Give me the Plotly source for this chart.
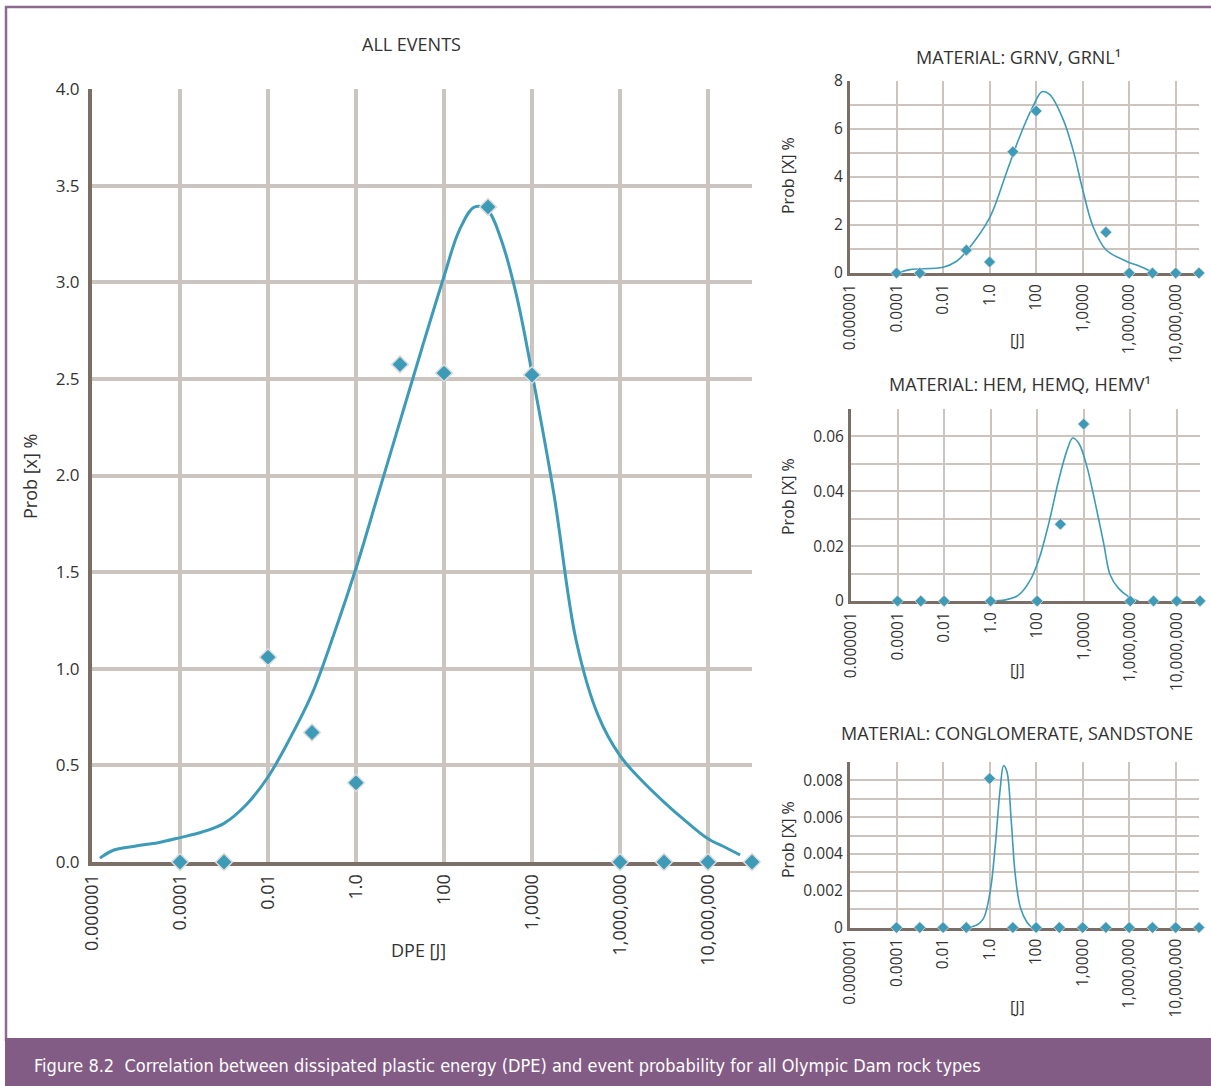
import plotly.graph_objects as go

W, H = 1211, 1086

# ---------------- data ----------------
tick_pos = [-6, -4, -2, 0, 2, 4, 6, 8]
tick_labels = ["0.000001", "0.0001", "0.01", "1.0", "100", "1,0000", "1,000,000", "10,000,000"]

# ALL EVENTS
all_pts_x = [-4, -3, -2, -1, 0, 1, 2, 3, 4, 6, 7, 8, 9]
all_pts_y = [0, 0, 1.06, 0.67, 0.41, 2.575, 2.53, 3.39, 2.52, 0, 0, 0, 0]
all_fit_x = [-5.82, -5.5, -5, -4.5, -4, -3.5, -3, -2.5, -2, -1.5, -1, -0.5, 0, 0.5, 1, 1.5, 2,
             2.35, 2.7, 3.0, 3.3, 3.65, 4, 4.5, 5, 5.5, 6, 6.5, 7, 7.5, 8, 8.4, 8.73]
all_fit_y = [0.02, 0.062, 0.083, 0.10, 0.126, 0.155, 0.20, 0.295, 0.44, 0.64, 0.87, 1.18, 1.52, 1.90,
             2.28, 2.66, 3.03, 3.27, 3.39, 3.37, 3.22, 2.93, 2.53, 1.90, 1.15, 0.76, 0.55,
             0.42, 0.31, 0.21, 0.12, 0.075, 0.036]

# GRNV, GRNL
grn_pts_x = [-4, -3, -1, 0, 1, 2, 5, 6, 7, 8, 9]
grn_pts_y = [0, 0, 0.95, 0.46, 5.05, 6.75, 1.70, 0, 0, 0, 0]
grn_fit_x = [-3.85, -3.42, -2, -1.42, -1, 0, 0.72, 1.3, 1.87, 2.25, 2.58, 3.16, 3.58, 4.0, 4.44,
             5.0, 5.87, 6.45, 7.0]
grn_fit_y = [0.03, 0.14, 0.24, 0.49, 0.9, 2.3, 4.17, 5.7, 6.95, 7.55, 7.44, 6.4, 5.15, 3.48, 1.95,
             0.97, 0.49, 0.28, 0.04]

# HEM, HEMQ, HEMV
hem_pts_x = [-4, -3, -2, 0, 2, 3, 4, 6, 7, 8, 9]
hem_pts_y = [0, 0, 0, 0, 0, 0.028, 0.0645, 0, 0, 0, 0]
hem_fit_x = [0, 0.64, 1.21, 1.71, 2.07, 2.5, 2.93, 3.29, 3.53, 3.79, 4.14, 4.5, 4.86, 5.14, 5.5,
             5.93, 6.36]
hem_fit_y = [0, 0.0004, 0.0022, 0.0077, 0.015, 0.0283, 0.0442, 0.0551, 0.0594, 0.0575, 0.049,
             0.0356, 0.021, 0.0095, 0.0046, 0.0016, 0]

# CONGLOMERATE, SANDSTONE
con_pts_x = [-4, -3, -2, -1, 0, 1, 2, 3, 4, 5, 6, 7, 8, 9]
con_pts_y = [0, 0, 0, 0, 0.0081, 0, 0, 0, 0, 0, 0, 0, 0, 0]
con_fit_x = [-1, -0.55, -0.26, 0.03, 0.24, 0.46, 0.6, 0.74, 0.93, 1.1, 1.32, 1.6, 1.82]
con_fit_y = [0, 0.00014, 0.0005, 0.002, 0.0044, 0.0076, 0.0088, 0.0085, 0.0058, 0.0029, 0.0011,
             0.0003, 0]

# ---------------- style ----------------
FONT = "Open Sans"
TXT = "#333333"
GRID = "#ccc4be"
AXIS = "#7b6e66"
BLUE = "#3d9bb7"
PURPLE = "#825c84"


def px(x):
    return x / W


def py(y):
    return 1 - y / H


fig = go.Figure()

panels = [
    ("", all_pts_x, all_pts_y, all_fit_x, all_fit_y, True),
    ("2", grn_pts_x, grn_pts_y, grn_fit_x, grn_fit_y, False),
    ("3", hem_pts_x, hem_pts_y, hem_fit_x, hem_fit_y, False),
    ("4", con_pts_x, con_pts_y, con_fit_x, con_fit_y, False),
]

for suf, xp, yp, xf, yf, big in panels:
    xa = "x" + suf
    ya = "y" + suf
    fig.add_trace(go.Scatter(
        x=xf, y=yf, mode="lines", xaxis=xa, yaxis=ya,
        line=dict(color=BLUE, width=3 if big else 1.6, shape="spline", smoothing=1.0),
        hoverinfo="skip", showlegend=False))
    fig.add_trace(go.Scatter(
        x=xp, y=yp, mode="markers", xaxis=xa, yaxis=ya, cliponaxis=False,
        marker=dict(symbol="diamond", color=BLUE, size=13 if big else 9,
                    line=dict(color="#dcdcdc", width=1.5 if big else 0.8)),
        showlegend=False))

common_x = dict(range=[-6, 9], tickvals=tick_pos, ticktext=tick_labels, tickangle=-90,
                showgrid=True, gridcolor=GRID, zeroline=False, showline=True, automargin=False,
                linecolor=AXIS, ticks="", layer="below traces", fixedrange=True)
common_y = dict(showgrid=True, gridcolor=GRID, zeroline=False, showline=True, automargin=False,
                linecolor=AXIS, ticks="", layer="below traces", fixedrange=True)

lay = {}
lay["xaxis"] = dict(common_x, domain=[px(92), px(752)], anchor="y", gridwidth=3.5, linewidth=4,
                    tickfont=dict(size=18, color=TXT, family=FONT), ticklabelstandoff=1)
lay["yaxis"] = dict(common_y, domain=[py(862), py(89)], anchor="x", range=[0, 4.0],
                    tickvals=[0, 0.5, 1, 1.5, 2, 2.5, 3, 3.5, 4],
                    ticktext=["0.0", "0.5", "1.0", "1.5", "2.0", "2.5", "3.0", "3.5", "4.0"],
                    gridwidth=3.5, linewidth=4,
                    tickfont=dict(size=17, color=TXT, family=FONT), ticklabelstandoff=5)

small = [
    ("2", (850, 1199), (81, 273), [0, 8], [0, 2, 4, 6, 8], ["0", "2", "4", "6", "8"], 1),
    ("3", (851, 1200), (409, 601), [0, 0.07], [0, 0.02, 0.04, 0.06], ["0", "0.02", "0.04", "0.06"], 0.01),
    ("4", (850, 1199), (762, 927.5), [0, 0.009], [0, 0.002, 0.004, 0.006, 0.008],
     ["0", "0.002", "0.004", "0.006", "0.008"], 0.001),
]
for suf, xd, yd, yr, tv, tt, mdt in small:
    lay["xaxis" + suf] = dict(common_x, domain=[px(xd[0]), px(xd[1])], anchor="y" + suf,
                              gridwidth=2, linewidth=3,
                              tickfont=dict(size=15.5, color=TXT, family=FONT), ticklabelstandoff=2)
    lay["yaxis" + suf] = dict(common_y, domain=[py(yd[1]), py(yd[0])], anchor="x" + suf,
                              range=yr, tickvals=tv, ticktext=tt, gridwidth=2, linewidth=3,
                              minor=dict(dtick=mdt, showgrid=True, gridcolor=GRID, gridwidth=2, ticks=""),
                              tickfont=dict(size=15.5, color=TXT, family=FONT), ticklabelstandoff=1)

annotations = []


def ann(text, x, y, size, angle=0, color=TXT, xanchor="center", family=FONT):
    annotations.append(dict(text=text, x=px(x), y=py(y), xref="paper", yref="paper",
                            showarrow=False, textangle=angle, xanchor=xanchor, yanchor="middle",
                            font=dict(size=size, color=color, family=family)))


ann("ALL EVENTS", 411, 44, 18)
ann("DPE [J]", 418, 950, 18)
ann("Prob [x] %", 30, 477, 18, angle=-90)

ann("MATERIAL: GRNV, GRNL¹", 1019, 57, 18)
ann("Prob [X] %", 788, 176, 16, angle=-90)
ann("[J]", 1017, 340, 16)

ann("MATERIAL: HEM, HEMQ, HEMV¹", 1020, 384, 18)
ann("Prob [X] %", 788, 497, 16, angle=-90)
ann("[J]", 1017, 670, 16)

ann("MATERIAL: CONGLOMERATE, SANDSTONE", 1017, 733, 18)
ann("Prob [X] %", 788, 840, 16, angle=-90)
ann("[J]", 1017, 1007, 16)

ann("Figure 8.2  Correlation between dissipated plastic energy (DPE) and event probability for all Olympic Dam rock types",
    32, 1065, 18, color="white", xanchor="left",
    family="Liberation Sans Narrow, DejaVu Sans Condensed, sans-serif")

shapes = [
    dict(type="rect", xref="paper", yref="paper", x0=px(6), x1=px(1220), y0=py(1040), y1=py(7),
         line=dict(color="#8c6b8e", width=2.5), fillcolor="rgba(0,0,0,0)", layer="below"),
    dict(type="rect", xref="paper", yref="paper", x0=px(5), x1=px(1215), y0=py(1090), y1=py(1038),
         line=dict(width=0), fillcolor=PURPLE, layer="below"),
]

fig.update_layout(
    width=W, height=H, autosize=False,
    margin=dict(l=0, r=0, t=0, b=0, pad=0),
    paper_bgcolor="white", plot_bgcolor="white",
    font=dict(family=FONT, color=TXT),
    annotations=annotations, shapes=shapes,
    showlegend=False,
    **lay,
)

fig.write_html(
    "out.html",
    config={"displayModeBar": False},
    post_script="document.body.style.margin='0px';document.body.style.overflow='hidden';",
)
